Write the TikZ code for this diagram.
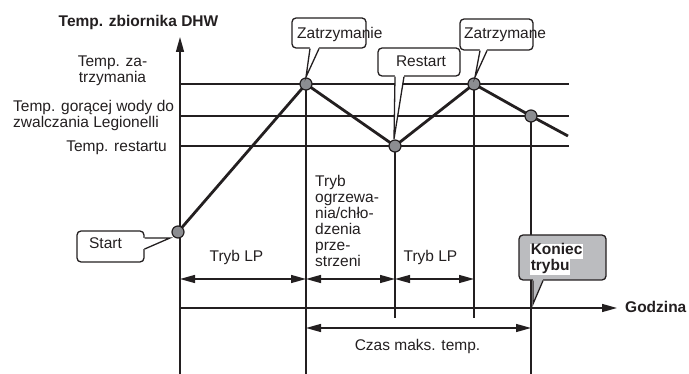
\documentclass[tikz,border=0pt]{standalone}
\usepackage{fontspec}
\setmainfont{Liberation Sans}
\usetikzlibrary{arrows.meta}
\definecolor{ink}{HTML}{231F20}
\definecolor{dotgray}{HTML}{8C8D91}
\definecolor{boxgray}{HTML}{BBBCBF}
\begin{document}
\begin{tikzpicture}[x=1pt,y=-1pt,
  every node/.style={font=\fontsize{15.5}{16}\selectfont, inner sep=0pt, text=ink},
  bold/.style={font=\fontsize{15.5}{16}\selectfont\bfseries},
  thinline/.style={draw=ink, line width=1.4pt},
  traj/.style={draw=ink, line width=2.8pt, line join=round},
  dot/.style={circle, draw=ink, line width=1.2pt, fill=dotgray, minimum size=12pt},
  tipA/.style={-{Triangle[length=15pt,width=8pt]}},
  dim/.style={draw=ink, line width=1.4pt, {Triangle[length=15pt,width=8pt]}-{Triangle[length=15pt,width=8pt]}},
  callbox/.style={draw=ink, line width=1.3pt, rounded corners=4pt, fill=white},
  pointer/.style={draw=ink, line width=1.3pt, line join=miter},
]
\useasboundingbox (0,0) rectangle (689,374);

% ---- coordinates
\coordinate (ybot) at (180,374);
\coordinate (ytop) at (180,37);
\coordinate (t0) at (180,308);
\coordinate (tend) at (617,308);

\coordinate (hA0) at (180,84);  \coordinate (hA1) at (569,84);
\coordinate (hB0) at (180,116); \coordinate (hB1) at (569,116);
\coordinate (hC0) at (180,146); \coordinate (hC1) at (569,146);

\coordinate (s) at (178,232);
\coordinate (z1) at (306,84);
\coordinate (r) at (395,146);
\coordinate (z2) at (474,84);
\coordinate (l) at (531,116);
\coordinate (e) at (568,136);

\coordinate (v1b) at (306,374);
\coordinate (v2b) at (395,318);
\coordinate (v3b) at (474,318);
\coordinate (v4b) at (531,374);

\coordinate (d0) at (180,279);
\coordinate (d1) at (306,279);
\coordinate (d2) at (395,279);
\coordinate (d3) at (474,279);
\coordinate (c0) at (306,328);
\coordinate (c1) at (531,328);

% ---- grid lines
\draw[thinline] (hA0) -- (hA1);
\draw[thinline] (hB0) -- (hB1);
\draw[thinline] (hC0) -- (hC1);
\draw[thinline] (z1) -- (v1b);
\draw[thinline] (r) -- (v2b);
\draw[thinline] (z2) -- (v3b);
\draw[thinline] (l) -- (v4b);

% ---- axes
\draw[thinline, tipA] (ybot) -- (ytop);
\draw[thinline, tipA] (t0) -- (tend);

% ---- dimension arrows
\draw[dim] (d0) -- (d1);
\draw[dim] (d1) -- (d2);
\draw[dim] (d2) -- (d3);
\draw[dim] (c0) -- (c1);

% ---- trajectory
\draw[traj] (s) -- (z1) -- (r) -- (z2) -- (l) -- (e);
\node[dot] (ps) at (s) {};
\node[dot] (pz1) at (z1) {};
\node[dot] (pr) at (r) {};
\node[dot] (pz2) at (z2) {};
\node[dot] (pl) at (l) {};

% ---- axis labels
\node[bold, anchor=base] (ylab) at (138.5,27) {Temp. zbiornika DHW};
\node[bold, anchor=base west] (xlab) at (625,313) {Godzina};
\node[anchor=base, align=center] (lstop) at (112.5,83) {Temp. za-\\trzymania};
\node[anchor=base west, align=left] (lleg) at (13,128) {Temp. gorącej wody do\\zwalczania Legionelli};
\node[anchor=base east] (lrest) at (167,152) {Temp. restartu};

% ---- mode labels
\node[anchor=base] (m1) at (236.5,262) {Tryb LP};
\node[anchor=base west, align=left] (m2) at (315,267) {Tryb\\ogrzewa-\\nia/chło-\\dzenia\\prze-\\strzeni};
\node[anchor=base] (m3) at (430.5,262) {Tryb LP};
\node[anchor=base] (m4) at (417.5,351) {Czas maks. temp.};

% ---- callout: Zatrzymanie
\node[callbox, minimum width=74pt, minimum height=30pt] (bz1) at (329,33) {};
\fill[white] ([xshift=-19pt,yshift=1.5pt]bz1.south) -- (306,77) -- ([xshift=-10pt,yshift=1.5pt]bz1.south) -- cycle;
\draw[pointer] ([xshift=-19pt]bz1.south) -- (306,77) -- ([xshift=-10pt]bz1.south);
\node[anchor=base west] (tz1) at (297,39) {Zatrzymanie};

% ---- callout: Restart
\node[callbox, minimum width=82pt, minimum height=28pt] (br) at (419,62) {};
\fill[white] ([xshift=-24pt,yshift=1.5pt]br.south) -- (394,139) -- ([xshift=-15pt,yshift=1.5pt]br.south) -- cycle;
\draw[pointer] ([xshift=-24pt]br.south) -- (394,139) -- ([xshift=-15pt]br.south);
\node[anchor=base] (tr) at (421,67) {Restart};

% ---- callout: Zatrzymane
\node[callbox, minimum width=73pt, minimum height=31pt] (bz2) at (496.5,34.5) {};
\fill[white] ([xshift=-16.5pt,yshift=1.5pt]bz2.south) -- (475,77) -- ([xshift=-9.5pt,yshift=1.5pt]bz2.south) -- cycle;
\draw[pointer] ([xshift=-16.5pt]bz2.south) -- (475,77) -- ([xshift=-9.5pt]bz2.south);
\node[anchor=base west] (tz2) at (464,39) {Zatrzymane};

% ---- callout: Start
\node[callbox, minimum width=67pt, minimum height=31pt] (bs) at (110.5,246.5) {};
\fill[white] ([yshift=8.5pt,xshift=-1.5pt]bs.east) -- (170,238) -- ([yshift=-2.5pt,xshift=-1.5pt]bs.east) -- cycle;
\draw[pointer] ([yshift=8.5pt]bs.east) -- (170,238) -- ([yshift=-2.5pt]bs.east);
\node[anchor=base] (ts) at (105.5,249) {Start};

% ---- callout: Koniec trybu
\node[callbox, fill=boxgray, minimum width=87pt, minimum height=45pt] (bk) at (562.5,257.5) {};
\fill[boxgray] ([xshift=-29.5pt,yshift=1.5pt]bk.south) -- (533,304) -- ([xshift=-19.5pt,yshift=1.5pt]bk.south) -- cycle;
\draw[pointer] ([xshift=-29.5pt]bk.south) -- (533,304) -- ([xshift=-19.5pt]bk.south);
\node[bold, anchor=base west, fill=white, inner sep=0.6pt, text height=10.8pt, text depth=3.6pt] (tk1) at (530,255) {Koniec};
\node[bold, anchor=base west, fill=white, inner sep=0.6pt, text height=10.8pt, text depth=3.6pt] (tk2) at (530,270.5) {trybu};
\end{tikzpicture}
\end{document}
